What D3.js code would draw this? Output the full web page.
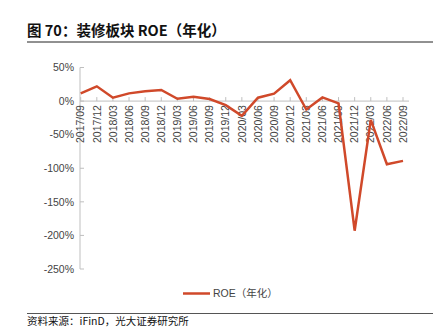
<!DOCTYPE html>
<html><head><meta charset="utf-8">
<script src="https://cdn.jsdelivr.net/npm/d3@7/dist/d3.min.js"></script>
<style>body{margin:0;background:#fff;} svg{display:block;}</style>
</head><body><svg id="c" width="444" height="334"></svg>
<script>
const categories = ["2017/09","2017/12","2018/03","2018/06","2018/09","2018/12","2019/03","2019/06","2019/09","2019/12","2020/03","2020/06","2020/09","2020/12","2021/03","2021/06","2021/09","2021/12","2022/03","2022/06","2022/09"];
const roe = [11.5, 22, 5, 11.5, 14.5, 16.5, 3.5, 6.5, 3, -6, -22, 5, 11, 31, -12.5, 5.5, -3.5, -193, -28, -94, -89];
const yTicks = [50, 0, -50, -100, -150, -200, -250];
const seriesName = "ROE（年化）";
const title = "图 70：装修板块 ROE（年化）";
const source = "资料来源：iFinD，光大证券研究所";

const svg = d3.select("#c");
const font = "'Liberation Sans', Arial, 'Noto Sans CJK SC', sans-serif";
const cjk = "'Noto Sans CJK SC', sans-serif";

svg.append("text").attr("x", 27).attr("y", 36).attr("font-family", cjk).attr("font-weight", "bold")
  .attr("font-size", 14.5).attr("fill", "#111").text(title);
svg.append("line").attr("x1", 27).attr("x2", 433).attr("y1", 42).attr("y2", 42).attr("stroke", "#222").attr("stroke-width", 1);

const x = d3.scalePoint().domain(categories).range([80.7, 403]);
const y = d3.scaleLinear().domain([-250, 50]).range([269, 67.5]);

// y axis
const yAxis = svg.append("g");
yAxis.append("line").attr("x1", 80).attr("x2", 80).attr("y1", y(50)).attr("y2", y(-250)).attr("stroke", "#bfbfbf");
yAxis.selectAll("line.t").data(yTicks).enter().append("line").attr("class","t")
  .attr("x1", 80).attr("x2", 84).attr("y1", d => y(d)).attr("y2", d => y(d)).attr("stroke", "#bfbfbf");
yAxis.selectAll("text").data(yTicks).enter().append("text")
  .attr("x", 74).attr("y", d => y(d)).attr("dy", "0.35em").attr("text-anchor", "end")
  .attr("font-family", font).attr("font-size", 10.5).attr("fill", "#444").text(d => d + "%");

// x axis at 0
const xAxis = svg.append("g");
xAxis.append("line").attr("x1", 80).attr("x2", 409).attr("y1", y(0)).attr("y2", y(0)).attr("stroke", "#bfbfbf");
xAxis.selectAll("line.t").data(categories).enter().append("line").attr("class","t")
  .attr("x1", d => x(d)).attr("x2", d => x(d)).attr("y1", y(0)).attr("y2", y(0) - 4).attr("stroke", "#bfbfbf");
xAxis.selectAll("text").data(categories).enter().append("text")
  .attr("transform", d => `translate(${x(d)},${y(0) + 4}) rotate(-90)`)
  .attr("dy", "0.35em").attr("text-anchor", "end")
  .attr("font-family", font).attr("font-size", 10.5).attr("fill", "#444").text(d => d);

// line
svg.append("path").datum(roe)
  .attr("d", d3.line().x((d, i) => x(categories[i])).y(d => y(d)))
  .attr("fill", "none").attr("stroke", "#d0492a").attr("stroke-width", 2.5).attr("stroke-linejoin", "miter");

// legend
svg.append("line").attr("x1", 183).attr("x2", 210).attr("y1", 293.5).attr("y2", 293.5).attr("stroke", "#d0492a").attr("stroke-width", 2.5);
svg.append("text").attr("x", 213).attr("y", 293.5).attr("dy", "0.35em").attr("font-family", font)
  .attr("font-size", 10.5).attr("fill", "#444").text(seriesName);

// footer
svg.append("line").attr("x1", 27).attr("x2", 433).attr("y1", 313.5).attr("y2", 313.5).attr("stroke", "#555").attr("stroke-width", 1);
svg.append("text").attr("x", 27).attr("y", 325).attr("font-family", cjk).attr("font-size", 10.5)
  .attr("fill", "#111").text(source);
</script></body></html>
